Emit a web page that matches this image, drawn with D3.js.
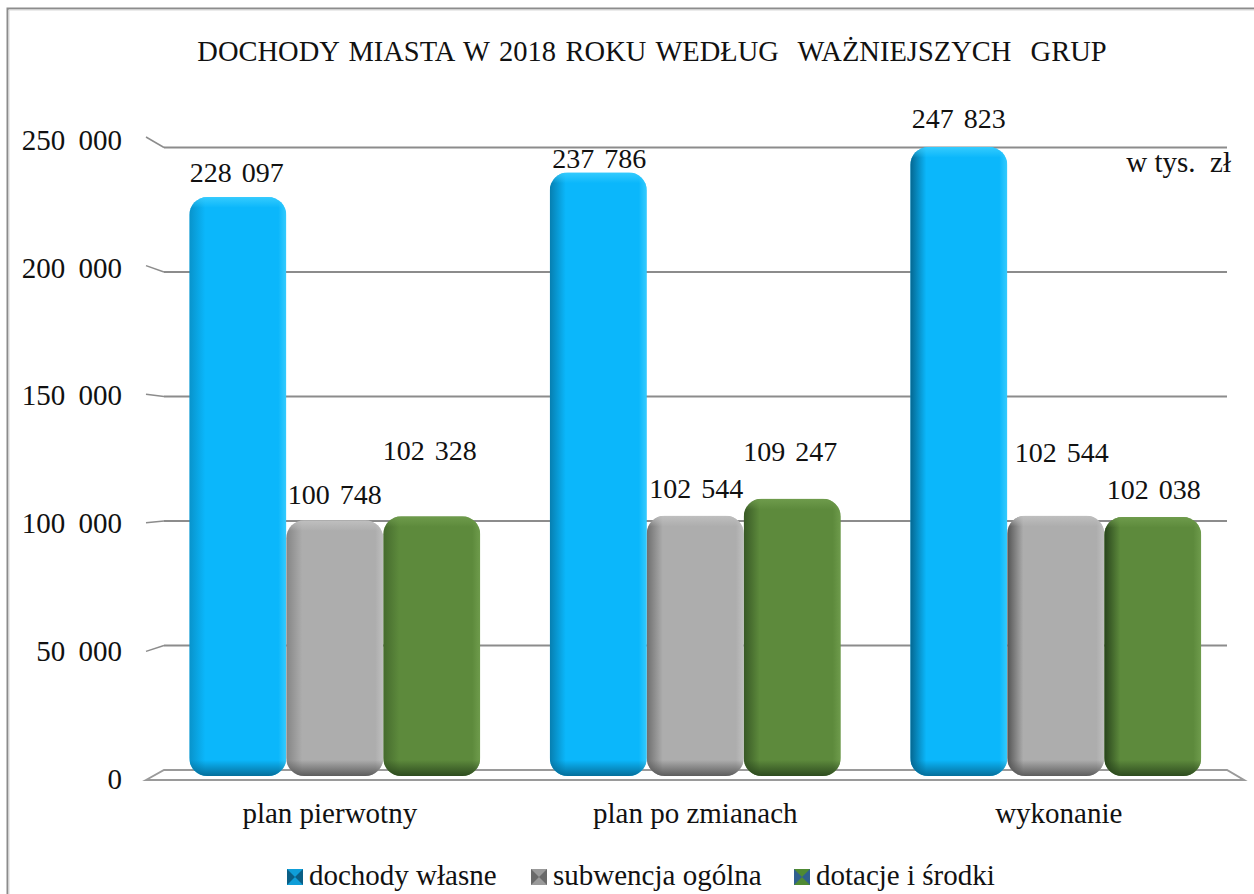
<!DOCTYPE html>
<html>
<head>
<meta charset="utf-8">
<script src="https://cdn.jsdelivr.net/npm/d3@7"></script>
<style>
    html, body { margin: 0; padding: 0; background: #fff; }
    svg { display: block; }
    text { font-family: "Liberation Serif", serif; fill: #111; }
</style>
</head>
<body>
<svg width="1254" height="894"></svg>
<script>
var categories = ["plan pierwotny", "plan po zmianach", "wykonanie"];
var categoryDx = [-5, 0, 3];
var seriesNames = ["dochody własne", "subwencja ogólna", "dotacje i środki"];
var dochodyWlasne = [228097, 237786, 247823];
var subwencjaOgolna = [100748, 102544, 102544];
var dotacjeSrodki = [102328, 109247, 102038];
var tickValues = [0, 50000, 100000, 150000, 200000, 250000];
var tickLabels = ["0", "50 000", "100 000", "150 000", "200 000", "250 000"];
var labelText = [
    ["228 097", "237 786", "247 823"],
    ["100 748", "102 544", "102 544"],
    ["102 328", "109 247", "102 038"]
];
// little nudges for the labels that sit off-centre in the original
var labelDx = [[-1, 1, 0], [0, 1, 6], [-2, -2, 1]];
var labelDy = [[-24, -13, -28], [-25, -27, -63], [-65, -47, -27]];
var seriesValues = [dochodyWlasne, subwencjaOgolna, dotacjeSrodki];

var colors = ["#0bb7fb", "#adadad", "#5d8a3c"];
var dark = ["#04628a", "#4f4f4f", "#25401a"];
var light = ["#3fd0ff", "#c4c4c4", "#73a050"];
var legendMid = ["#0f9ed8", "#9a9a9a", "#4f8a33"];
var legendEdge = ["#0a5f86", "#6a6a6a", "#2f5f8f"];
// left side gets darker further right, the light comes from the right
var leftShade = [0.45, 0.7, 1];

var svg = d3.select("svg");

// frame
svg.append("path")
    .attr("d", "M7.5,894V8.5H1254")
    .attr("fill", "none")
    .attr("stroke", "#8c8c8c")
    .attr("stroke-width", 2);
svg.append("path")
    .attr("d", "M9,894V10H1254")
    .attr("fill", "none")
    .attr("stroke", "#d8d8d8")
    .attr("stroke-width", 1);

svg.append("text")
    .attr("x", 652).attr("y", 61)
    .attr("text-anchor", "middle")
    .attr("font-size", "28.5px")
    .attr("word-spacing", "2.5px")
    .attr("xml:space", "preserve")
    .text("DOCHODY MIASTA W 2018 ROKU WEDŁUG  WAŻNIEJSZYCH  GRUP");

// pseudo-3D chart: front edge, back wall, labels and bars all sit on slightly different scales
var yFront = d3.scaleLinear().domain([0, 250000]).range([780, 137]);
var yWall = d3.scaleLinear().domain([0, 250000]).range([770, 147.5]);
var yBar = d3.scaleLinear().domain([0, 250000]).range([776, 141.5]);
var yLabel = d3.scaleLinear().domain([0, 250000]).range([779, 140]);

var x0 = d3.scaleBand().domain(categories).range([154.5, 1236]).paddingInner(0.193).paddingOuter(0.0965);
var x1 = d3.scaleBand().domain(d3.range(3)).range([0, x0.bandwidth()]);

var defs = svg.append("defs");

function gradient(id, x1, y1, x2, y2, color, op) {
    var g = defs.append("linearGradient").attr("id", id)
        .attr("x1", x1).attr("y1", y1).attr("x2", x2).attr("y2", y2);
    g.append("stop").attr("offset", "0%").attr("stop-color", color).attr("stop-opacity", op);
    g.append("stop").attr("offset", "100%").attr("stop-color", color).attr("stop-opacity", 0);
}

colors.forEach(function (c, i) {
    gradient("left" + i, 0, 0, 1, 0, dark[i], 0.95);
    gradient("right" + i, 1, 0, 0, 0, light[i], 0.8);
    gradient("bottom" + i, 0, 1, 0, 0, dark[i], 0.85);
    gradient("top" + i, 0, 0, 0, 1, light[i], 0.8);
});

// back wall gridlines
svg.append("g").selectAll("line")
    .data(tickValues.filter(function (d) { return d > 0; }))
    .enter().append("line")
    .attr("x1", 164).attr("x2", 1227)
    .attr("y1", function (d) { return yWall(d); })
    .attr("y2", function (d) { return yWall(d); })
    .attr("stroke", "#8c8c8c")
    .attr("stroke-width", 2);

// slanted ticks from the front edge to the wall
svg.append("g").selectAll("line")
    .data(tickValues.filter(function (d) { return d > 0; }))
    .enter().append("line")
    .attr("x1", 146).attr("x2", 164)
    .attr("y1", function (d) { return yFront(d); })
    .attr("y2", function (d) { return yWall(d); })
    .attr("stroke", "#8c8c8c")
    .attr("stroke-width", 1.5);

// floor
svg.append("path")
    .attr("d", "M146," + yFront(0) + "L164," + yWall(0) + "H1227L1244," + yFront(0) + "Z")
    .attr("fill", "#fff")
    .attr("stroke", "#9a9a9a")
    .attr("stroke-width", 2);

// y axis labels
var yAxis = d3.axisLeft(yLabel)
    .tickValues(tickValues)
    .tickSize(0)
    .tickPadding(0)
    .tickFormat(function (d, i) { return tickLabels[i]; });

var axisG = svg.append("g")
    .attr("transform", "translate(122,0)")
    .call(yAxis);
axisG.select(".domain").remove();
axisG.selectAll("text")
    .attr("font-family", "Liberation Serif")
    .attr("font-size", "29px")
    .attr("word-spacing", "6px")
    .attr("fill", "#111")
    .attr("dy", "0.32em");

// x axis labels
var xAxis = d3.axisBottom(x0).tickSize(0).tickPadding(0);
var xG = svg.append("g")
    .attr("transform", "translate(0,802)")
    .call(xAxis);
xG.select(".domain").remove();
xG.selectAll("text")
    .attr("font-family", "Liberation Serif")
    .attr("font-size", "29px")
    .attr("fill", "#111")
    .attr("dx", function (d, i) { return categoryDx[i]; });

var EDGE = 16;

seriesValues.forEach(function (values, s) {
    var bars = svg.append("g").selectAll("g")
        .data(values)
        .enter().append("g")
        .attr("transform", function (d, i) {
            return "translate(" + (x0(categories[i]) + x1(s)) + "," + yBar(d) + ")";
        });

    var w = x1.bandwidth();

    bars.each(function (d, i) {
        var h = yBar(0) - yBar(d);
        var g = d3.select(this);
        var clipId = "clip" + s + "_" + i;
        defs.append("clipPath").attr("id", clipId)
            .append("rect").attr("width", w).attr("height", h).attr("rx", 18).attr("ry", 18);
        var inner = g.append("g").attr("clip-path", "url(#" + clipId + ")");
        inner.append("rect").attr("width", w).attr("height", h).attr("fill", colors[s]);
        inner.append("rect").attr("width", EDGE).attr("height", h)
            .attr("fill", "url(#left" + s + ")").attr("opacity", leftShade[i]);
        inner.append("rect").attr("x", w - EDGE / 2).attr("width", EDGE / 2).attr("height", h)
            .attr("fill", "url(#right" + s + ")");
        inner.append("rect").attr("width", w).attr("height", EDGE / 1.5)
            .attr("fill", "url(#top" + s + ")");
        inner.append("rect").attr("y", h - EDGE).attr("width", w).attr("height", EDGE)
            .attr("fill", "url(#bottom" + s + ")");
    });

    // value labels
    svg.append("g").selectAll("text")
        .data(values)
        .enter().append("text")
        .attr("x", function (d, i) { return x0(categories[i]) + x1(s) + w / 2 + labelDx[s][i]; })
        .attr("y", function (d, i) { return yBar(d) + labelDy[s][i] + 9; })
        .attr("text-anchor", "middle")
        .attr("font-size", "28px")
        .attr("word-spacing", "3px")
        .text(function (d, i) { return labelText[s][i]; });
});

svg.append("text")
    .attr("x", 1231).attr("y", 172)
    .attr("text-anchor", "end")
    .attr("font-size", "29px")
    .attr("xml:space", "preserve")
    .text("w tys.  zł");

// legend
var legendX = [287, 531, 794];
var swatch = 16;
var legend = svg.append("g").selectAll("g")
    .data(seriesNames)
    .enter().append("g")
    .attr("transform", function (d, i) { return "translate(" + legendX[i] + ",869)"; });

legend.append("rect")
    .attr("width", swatch).attr("height", swatch)
    .attr("fill", function (d, i) { return legendEdge[i]; });
legend.append("path")
    .attr("d", "M0,0L" + swatch + ",0L" + swatch / 2 + "," + swatch / 2 + "Z")
    .attr("fill", function (d, i) { return legendMid[i]; });
legend.append("path")
    .attr("d", "M0," + swatch + "L" + swatch + "," + swatch + "L" + swatch / 2 + "," + swatch / 2 + "Z")
    .attr("fill", function (d, i) { return legendMid[i]; });
legend.append("text")
    .attr("x", 22).attr("y", 16)
    .attr("font-size", "29px")
    .text(function (d) { return d; });
</script>
</body>
</html>
